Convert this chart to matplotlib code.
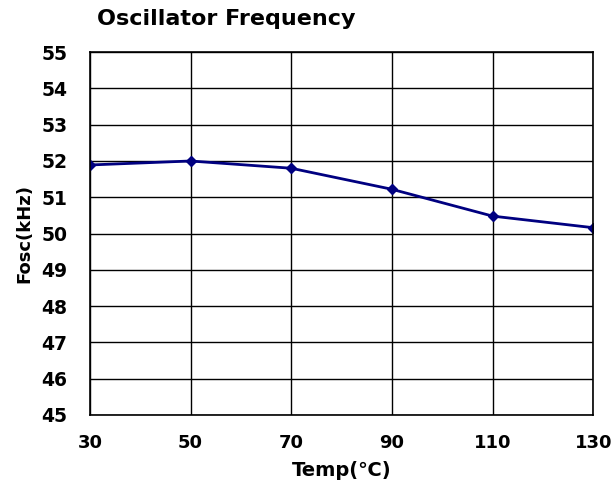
import matplotlib
matplotlib.use("Agg")
import matplotlib.pyplot as plt

matplotlib.rcParams.update({
    'font.family': ['DejaVu Sans'],
    'font.weight': 'bold',
    'font.size': 13,
})

temp = [30, 50, 70, 90, 110, 130]
fosc = [51.89, 52.0, 51.8, 51.22, 50.48, 50.16]

fig = plt.figure(figsize=(6.11, 4.88), dpi=100)
ax = fig.add_axes([0.147, 0.150, 0.824, 0.743])
ax.plot(temp, fosc, color='#000080', linewidth=2, marker='D', markersize=5)
ax.set_xlim(30, 130)
ax.set_ylim(45, 55)
ax.set_xticks(range(30, 131, 20))
ax.set_yticks(range(45, 56))
ax.grid(True, color='black', linewidth=1)
for s in ax.spines.values():
    s.set_linewidth(1.2)
ax.tick_params(axis='x', length=0, pad=14, labelsize=13)
ax.tick_params(axis='y', length=0, pad=16, labelsize=13.5)
for lab in ax.get_xticklabels() + ax.get_yticklabels():
    lab.set_fontweight('bold')
ax.set_xlabel('Temp(℃)', fontsize=14, fontweight='bold', labelpad=6)
ax.set_ylabel('Fosc(kHz)', fontsize=13, fontweight='bold', labelpad=6)
fig.text(0.159, 0.961, 'Oscillator Frequency', fontsize=16, fontweight='bold', va='center')

plt.savefig('out.png', dpi=100)
